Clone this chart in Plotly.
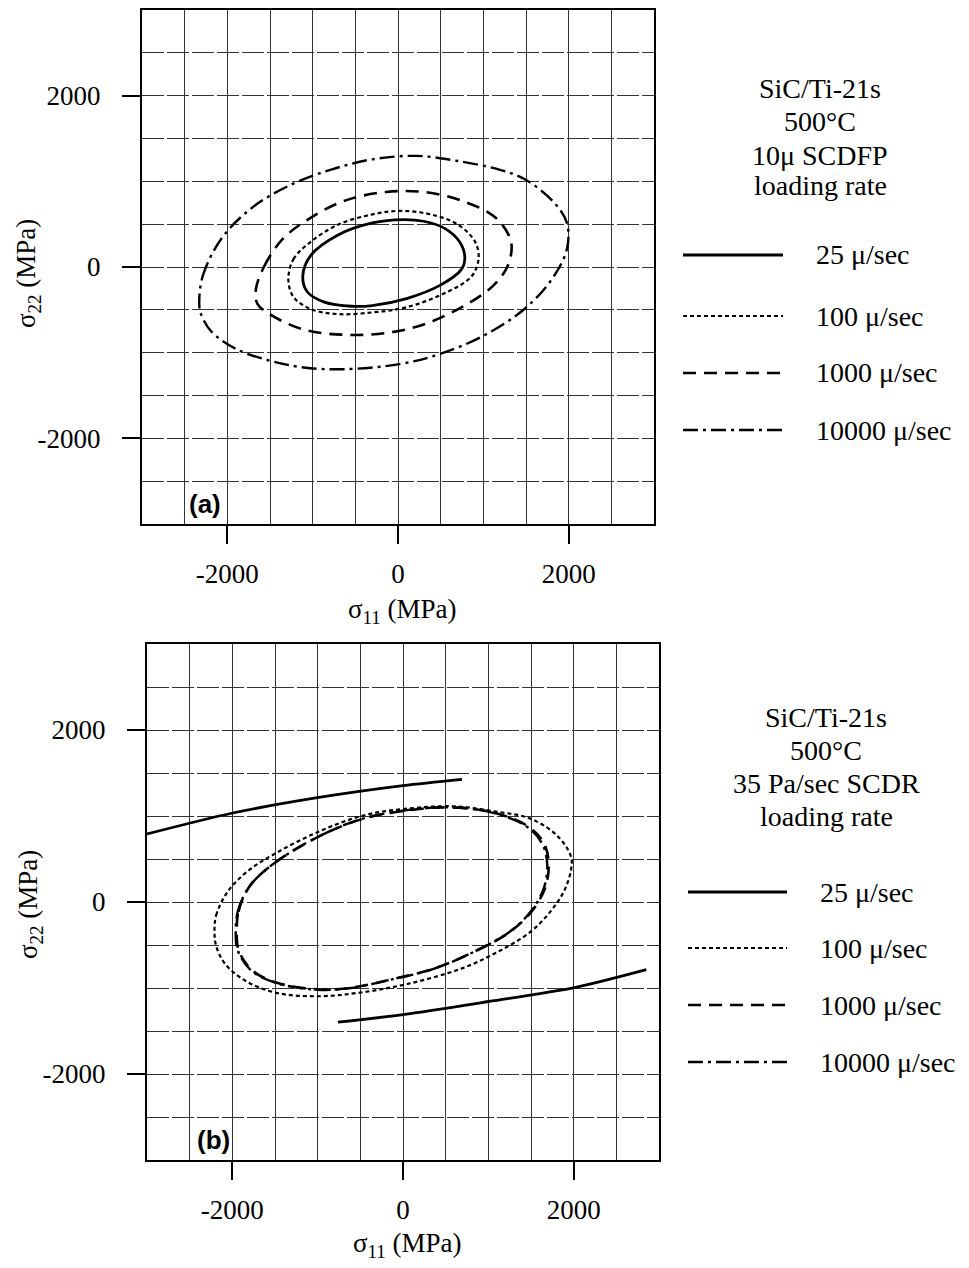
import plotly.graph_objects as go

W, H = 969, 1268

# ---------------- data (MPa) ----------------
# Panel (a): 10 micro-strain SCDFP surfaces
a25_x = [-1116, -1024, -703, -301, 60, 301, 542, 723, 783, 743, 502, 100, -301, -542, -863, -1064]
a25_y = [-108, 133, 373, 514, 554, 534, 454, 293, 112, -28, -209, -369, -450, -458, -410, -289]

a100_x = [-1285, -1225, -1024, -703, -301, 20, 382, 703, 904, 944, 863, 582, 100, -301, -703, -1024, -1225]
a100_y = [-149, 92, 293, 494, 614, 655, 614, 494, 293, 92, -108, -289, -470, -530, -550, -490, -349]

a1000_x = [-1667, -1566, -1345, -1024, -622, -141, 301, 743, 1145, 1325, 1285, 1104, 743, 301, -141, -622, -1104, -1506, -1647]
a1000_y = [-269, 12, 333, 574, 775, 876, 876, 775, 574, 293, 12, -229, -470, -671, -771, -791, -731, -550, -430]

a10000_x = [-2329, -2289, -2068, -1707, -1265, -783, -301, 221, 703, 1185, 1486, 1827, 1980, 1980, 1827, 1506, 1024, 502, 20, -622, -1104, -1506, -1908, -2189, -2309]
a10000_y = [-430, -108, 333, 695, 956, 1137, 1257, 1297, 1237, 1137, 1024, 755, 514, 213, -108, -470, -791, -1012, -1133, -1193, -1173, -1092, -952, -751, -550]

# Panel (b): 35 Pa/sec SCDR surfaces
b25_upper_x = [-3000, -2008, -1004, 0, 691]
b25_upper_y = [791, 1032, 1213, 1353, 1426]
b25_lower_x = [-763, 0, 1004, 2008, 2851]
b25_lower_y = [-1398, -1309, -1157, -996, -787]

b100_x = [-2209, -2189, -2048, -1807, -1486, -1004, -442, 120, 602, 1084, 1486, 1807, 1968, 1968, 1888, 1727, 1486, 1084, 683, 40, -522, -1004, -1486, -1847, -2088, -2189]
b100_y = [-353, -153, 129, 369, 570, 811, 1012, 1092, 1112, 1052, 972, 771, 530, 369, 129, -112, -353, -594, -775, -956, -1056, -1096, -1056, -916, -715, -514]

b1000_x = [-1948, -1928, -1807, -1566, -1084, -522, 40, 522, 1004, 1446, 1647, 1707, 1667, 1506, 1245, 843, 361, -120, -602, -1004, -1486, -1767, -1928]
b1000_y = [-313, -112, 169, 410, 711, 952, 1064, 1100, 1052, 892, 691, 450, 169, -112, -353, -574, -775, -896, -996, -1016, -936, -795, -554]

b10000_x = [-1960, -1935, -1800, -1550, -1070, -510, 50, 530, 1010, 1440, 1630, 1690, 1650, 1490, 1230, 830, 350, -130, -610, -1010, -1490, -1775, -1938]
b10000_y = [-320, -105, 180, 420, 720, 958, 1068, 1100, 1048, 885, 680, 440, 160, -120, -360, -580, -780, -900, -1000, -1020, -940, -800, -560]

tick_vals = [-2000, 0, 2000]
tick_text = ["-2000", "0", "2000"]
legend_labels = ["25 \u03bc/sec", "100 \u03bc/sec", "1000 \u03bc/sec", "10000 \u03bc/sec"]
header_a = ["SiC/Ti-21s", "500\u00b0C", "10\u03bc SCDFP", "loading rate"]
header_b = ["SiC/Ti-21s", "500\u00b0C", "35 Pa/sec SCDR", "loading rate"]
x_title = "\u03c3<sub>11</sub> (MPa)"
y_title = "\u03c3<sub>22</sub> (MPa)"

# ---------------- styles ----------------
SERIF = "Liberation Serif"
styles = [
    dict(dash="solid", width=2.8),
    dict(dash="4px,3px", width=2.2),
    dict(dash="13px,8px", width=2.6),
    dict(dash="15px,5px,3px,5px", width=2.4),
]


def closed(v):
    return list(v) + [v[0]]


fig = go.Figure()

pa = [(a25_x, a25_y), (a100_x, a100_y), (a1000_x, a1000_y), (a10000_x, a10000_y)]
for (xs, ys), st, nm in zip(pa, styles, legend_labels):
    fig.add_trace(go.Scatter(x=closed(xs), y=closed(ys), mode="lines", name=nm,
                             line=dict(color="black", shape="spline", smoothing=1.0, **st),
                             xaxis="x", yaxis="y", showlegend=False))

for xs, ys in [(b25_upper_x, b25_upper_y), (b25_lower_x, b25_lower_y)]:
    fig.add_trace(go.Scatter(x=xs, y=ys, mode="lines", name=legend_labels[0],
                             line=dict(color="black", shape="spline", smoothing=0.8, **styles[0]),
                             xaxis="x2", yaxis="y2", showlegend=False))
pb = [(b100_x, b100_y), (b1000_x, b1000_y), (b10000_x, b10000_y)]
for (xs, ys), st, nm in zip(pb, styles[1:], legend_labels[1:]):
    fig.add_trace(go.Scatter(x=closed(xs), y=closed(ys), mode="lines", name=nm,
                             line=dict(color="black", shape="spline", smoothing=1.0, **st),
                             xaxis="x2", yaxis="y2", showlegend=False))


def px_x(p):
    return p / W


def px_y(p):
    return 1 - p / H


def axis(domain, anchor, is_y):
    d = dict(
        domain=domain, anchor=anchor, range=[-3000, 3000],
        tickmode="array", tickvals=tick_vals, ticktext=tick_text,
        ticks="outside", ticklen=18, tickwidth=1.5, tickcolor="black",
        showline=True, linewidth=2, linecolor="black", mirror=True,
        showgrid=True, gridcolor="#333", gridwidth=1,
        minor=dict(tickmode="linear", tick0=0, dtick=500, showgrid=True,
                   gridcolor="#333", gridwidth=1, ticks=""),
        zeroline=False,
        tickfont=dict(family=SERIF, size=27, color="black"),
        ticklabelstandoff=16 if is_y else 7,
        fixedrange=True,
        automargin=False,
    )
    if is_y:
        d["griddash"] = "22px,3px"
        d["minor"]["griddash"] = "22px,3px"
    return d


# panel pixel boxes
ax_l, ax_r, ax_t, ax_b = 142, 654, 10, 524
bx_l, bx_r, bx_t, bx_b = 147, 659, 644, 1160

fig.update_layout(
    width=W, height=H,
    margin=dict(l=0, r=0, t=0, b=0),
    paper_bgcolor="white", plot_bgcolor="white",
    showlegend=False,
    xaxis=axis([px_x(ax_l), px_x(ax_r)], "y", False),
    yaxis=axis([px_y(ax_b), px_y(ax_t)], "x", True),
    xaxis2=axis([px_x(bx_l), px_x(bx_r)], "y2", False),
    yaxis2=axis([px_y(bx_b), px_y(bx_t)], "x2", True),
)

ann = []
shapes = []


def text(x, y, s, size=28, anchor="center", angle=0, family=SERIF, bold=False):
    ann.append(dict(x=px_x(x), y=px_y(y), xref="paper", yref="paper", text=s,
                    showarrow=False, xanchor=anchor, yanchor="middle", textangle=angle,
                    font=dict(family=family, size=size, color="black",
                              weight="bold" if bold else "normal")))


# axis titles
text(402, 611, x_title, size=27)
text(28, 274, y_title, size=27, angle=-90)
text(407, 1245, x_title, size=27)
text(30, 905, y_title, size=27, angle=-90)

# panel labels
text(205, 504, "(a)", size=26, family="Liberation Sans", bold=True)
text(213, 1140, "(b)", size=26, family="Liberation Sans", bold=True)

# headers
for s, y in zip(header_a, [88, 122, 155, 186]):
    text(820, y, s)
for s, y in zip(header_b, [717, 750, 783, 816]):
    text(826, y, s)

# legend samples
for (x0, x1, tx, ys) in [(683, 783, 814, [255, 316, 373, 430]),
                         (688, 787, 818, [892, 948, 1005, 1062])]:
    for st, lab, y in zip(styles, legend_labels, ys):
        shapes.append(dict(type="line", xref="paper", yref="paper",
                           x0=px_x(x0), x1=px_x(x1), y0=px_y(y), y1=px_y(y),
                           line=dict(color="black", width=st["width"], dash=st["dash"])))
        text(tx, y, lab, anchor="left")

fig.update_layout(annotations=ann, shapes=shapes)
fig.write_html("out.html", config={"displayModeBar": False},
               post_script="document.body.style.margin='0px';")
